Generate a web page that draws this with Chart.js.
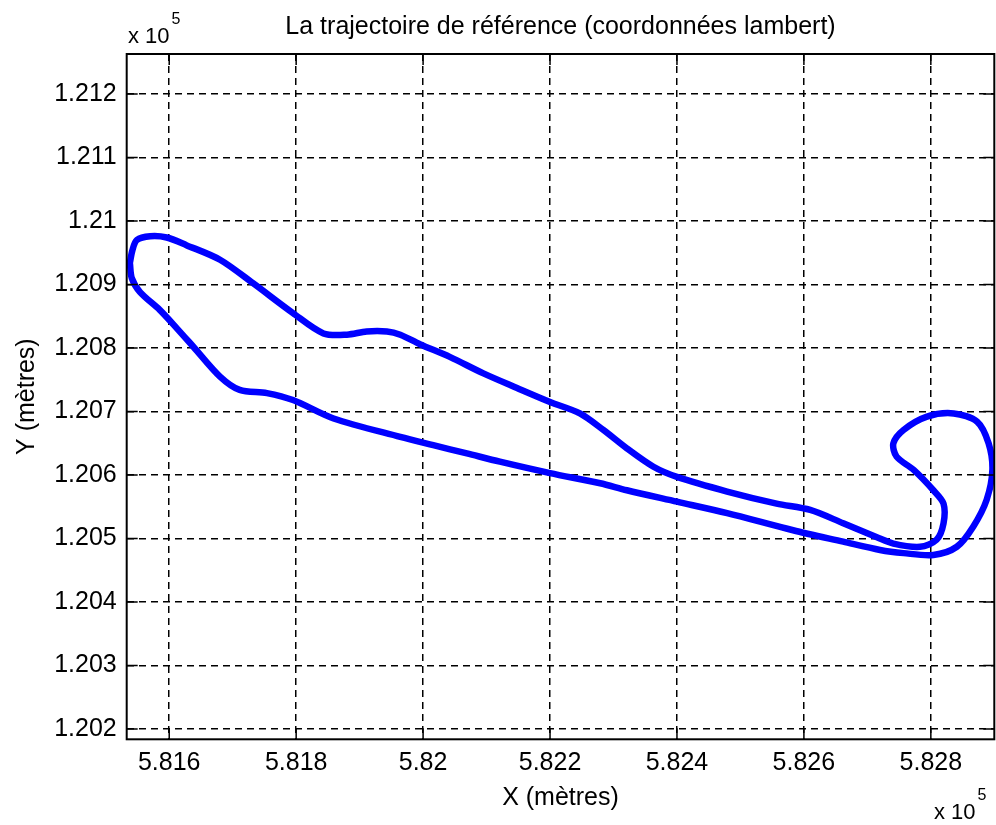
<!DOCTYPE html>
<html>
<head>
<meta charset="utf-8">
<script src="https://cdn.jsdelivr.net/npm/chart.js@4/dist/chart.umd.min.js"></script>
<style>
  html, body { margin: 0; padding: 0; background: #fff; }
  canvas { display: block; }
</style>
</head>
<body>
<canvas id="chart" width="996" height="825"></canvas>
<script>
// Lambert coordinates (metres), going round the loop once
const trackX = [
    581538, 581542, 581549, 581570, 581596, 581627, 581680, 581732, 581795, 581843,
    581880, 581911, 581943, 581964, 581995, 582042, 582095, 582148, 582200, 582247,
    582284, 582321, 582363, 582400, 582479, 582557, 582610, 582662, 582715, 582741,
    582783, 582809, 582820, 582820, 582804, 582773, 582746, 582741, 582757, 582794,
    582836, 582873, 582891, 582897, 582888, 582867, 582841, 582804, 582757, 582720,
    582662, 582583, 582479, 582400, 582321, 582279, 582200, 582121, 582069, 582016,
    581964, 581859, 581795, 581754, 581711, 581680, 581638, 581612, 581585, 581554,
    581541, 581538,
];
const trackY = [
    120934, 120954, 120970, 120976, 120974, 120962, 120939, 120902, 120855, 120823,
    120821, 120826, 120826, 120821, 120806, 120786, 120760, 120737, 120715, 120697,
    120671, 120642, 120613, 120597, 120574, 120555, 120545, 120524, 120502, 120492,
    120487, 120498, 120524, 120555, 120576, 120608, 120629, 120650, 120671, 120692,
    120697, 120684, 120650, 120608, 120561, 120519, 120487, 120474, 120477, 120482,
    120495, 120513, 120540, 120558, 120576, 120587, 120603, 120621, 120634, 120647,
    120660, 120689, 120718, 120729, 120734, 120755, 120802, 120831, 120860, 120888,
    120910, 120934,
];

const xTicks = [581600, 581800, 582000, 582200, 582400, 582600, 582800];
const xTickLabels = ["5.816", "5.818", "5.82", "5.822", "5.824", "5.826", "5.828"];
const yTicks = [120200, 120300, 120400, 120500, 120600, 120700, 120800, 120900, 121000, 121100, 121200];
const yTickLabels = ["1.202", "1.203", "1.204", "1.205", "1.206", "1.207", "1.208", "1.209", "1.21", "1.211", "1.212"];

const chartTitle = "La trajectoire de référence (coordonnées lambert)";
const xTitle = "X (mètres)";
const yTitle = "Y (mètres)";

const FONT = '"Liberation Sans", Arial, sans-serif';

function drawExponent(ctx, x, baseline) {
    ctx.font = "22px " + FONT;
    ctx.textAlign = "left";
    ctx.textBaseline = "alphabetic";
    ctx.fillText("x 10", x, baseline);
    const w = ctx.measureText("x 10").width;
    ctx.font = "16px " + FONT;
    ctx.fillText("5", x + w + 2, baseline - 19);
}

// box, inward ticks on all four sides, title and the "x 10^5" multipliers
const matlabFrame = {
    id: "matlabFrame",
    afterDraw(chart) {
        const { ctx, chartArea: a, scales: { x, y } } = chart;
        ctx.save();
        ctx.strokeStyle = "#000";
        ctx.lineWidth = 1.5;
        ctx.beginPath();
        xTicks.forEach((v) => {
            const px = x.getPixelForValue(v);
            ctx.moveTo(px, a.top);
            ctx.lineTo(px, a.top + 11);
            ctx.moveTo(px, a.bottom);
            ctx.lineTo(px, a.bottom - 11);
        });
        yTicks.forEach((v) => {
            const py = y.getPixelForValue(v);
            ctx.moveTo(a.left, py);
            ctx.lineTo(a.left + 11, py);
            ctx.moveTo(a.right, py);
            ctx.lineTo(a.right - 11, py);
        });
        ctx.stroke();
        ctx.lineWidth = 2;
        ctx.strokeRect(a.left, a.top, a.right - a.left, a.bottom - a.top);

        ctx.fillStyle = "#000";
        ctx.font = "25px " + FONT;
        ctx.textAlign = "center";
        ctx.textBaseline = "alphabetic";
        ctx.fillText(chartTitle, (a.left + a.right) / 2, 34);

        drawExponent(ctx, 128, 43);
        drawExponent(ctx, 934, 819);
        ctx.restore();
    },
};

const tickFont = { family: FONT, size: 25 };

new Chart(document.getElementById("chart"), {
    type: "scatter",
    data: {
        datasets: [{
            data: trackX.map((v, i) => ({ x: v, y: trackY[i] })),
            showLine: true,
            borderColor: "#0000ff",
            backgroundColor: "#0000ff",
            borderWidth: 6.5,
            pointRadius: 0,
            tension: 0.3,
            borderJoinStyle: "round",
            borderCapStyle: "round",
            clip: 0,
        }],
    },
    plugins: [matlabFrame],
    options: {
        responsive: false,
        animation: false,
        layout: { padding: { left: 0, right: 1.7, top: 54, bottom: 0 } },
        plugins: {
            legend: { display: false },
            tooltip: { enabled: false },
            title: { display: false },
        },
        scales: {
            x: {
                type: "linear",
                min: 581533,
                max: 582900,
                afterBuildTicks: (s) => { s.ticks = xTicks.map((v) => ({ value: v })); },
                afterFit: (s) => { s.height = 85.7; },
                grid: { color: "#000", lineWidth: 1.5, drawTicks: false },
                border: { display: false, dash: [7, 5] },
                ticks: {
                    color: "#000",
                    font: tickFont,
                    padding: 9,
                    maxRotation: 0,
                    autoSkip: false,
                    callback: (v) => xTickLabels[xTicks.indexOf(v)],
                },
                title: {
                    display: true,
                    text: xTitle,
                    color: "#000",
                    font: tickFont,
                    padding: { top: 12, bottom: 12 },
                },
            },
            y: {
                type: "linear",
                min: 120183.8,
                max: 121263,
                afterBuildTicks: (s) => { s.ticks = yTicks.map((v) => ({ value: v })); },
                afterFit: (s) => { s.width = 126.7; },
                grid: { color: "#000", lineWidth: 1.5, drawTicks: false },
                border: { display: false, dash: [7, 5] },
                ticks: {
                    color: "#000",
                    font: tickFont,
                    padding: 10,
                    autoSkip: false,
                    callback: (v) => yTickLabels[yTicks.indexOf(v)],
                },
                title: {
                    display: true,
                    text: yTitle,
                    color: "#000",
                    font: tickFont,
                    padding: { top: 12, bottom: 12 },
                },
            },
        },
    },
});
</script>
</body>
</html>
